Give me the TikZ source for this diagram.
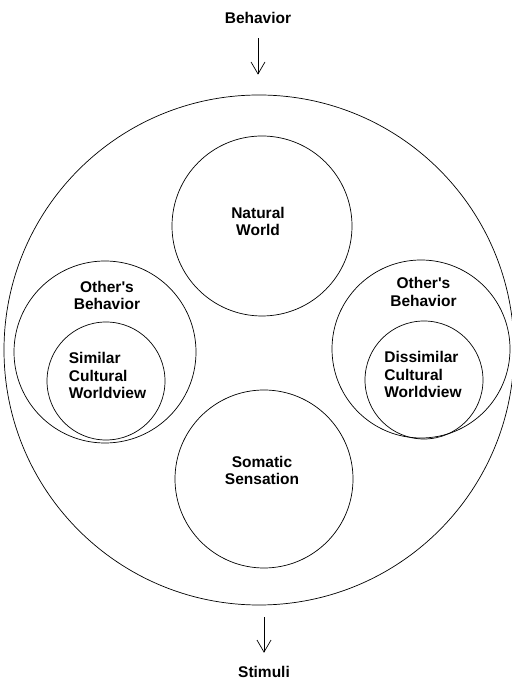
\documentclass[tikz,border=0pt]{standalone}
\usepackage{fontspec}
\setmainfont{Liberation Sans}
\usetikzlibrary{arrows.meta, positioning}
\tikzset{ring/.style={circle, draw=black, line width=0.7pt, inner sep=0pt},
ringtext/.style={font=\bfseries\fontsize{15.5}{17.5}\selectfont, align=center, inner sep=3.33pt},
flowarrow/.style={-{Straight Barb[length=12pt, width=14pt]}, line width=0.7pt}}

\begin{document}
\begin{tikzpicture}
                \useasboundingbox (0pt, 0pt) rectangle (511pt, 682pt);

                % Circles
                \node[ring, minimum size=510pt] (field) at (259pt, 332pt) {};
                \node[ring, minimum size=180pt] (natural) at (262pt, 456pt) {};
                \node[ring, minimum size=178pt] (somatic) at (264pt, 203pt) {};
                \node[ring, minimum size=182pt] (otherleft) at (105pt, 330pt) {};
                \node[ring, minimum size=118pt] (similar) at (106pt, 301pt) {};
                \node[ring, minimum size=178pt] (otherright) at (421pt, 333pt) {};
                \node[ring, minimum size=118pt] (dissimilar) at (424pt, 302pt) {};

                % Texts
                \node[ringtext] (behavior) at (258pt, 664pt) {Behavior};
                \node[ringtext] (stimuli) at (264pt, 10pt) {Stimuli};
                \node[ringtext] (naturaltext) at (258pt, 460.5pt) {Natural\\World};
                \node[ringtext] (somatictext) at (262pt, 211.5pt) {Somatic\\Sensation};
                \node[ringtext] (otherlefttext) at (107pt, 386.5pt) {Other\textquotesingle s\\Behavior};
                \node[ringtext, align=left] (similartext) at (107.5pt, 306.5pt) {Similar\\Cultural\\Worldview};
                \node[ringtext] (otherrighttext) at (423.5pt, 390pt) {Other\textquotesingle s\\Behavior};
                \node[ringtext, align=left] (dissimilartext) at (423pt, 307.5pt) {Dissimilar\\Cultural\\Worldview};

                % Arrows
                \draw[flowarrow, shorten <=11pt, shorten >=20pt] (behavior.south) -- (behavior.south |- field.north);
                \draw[flowarrow, shorten <=12pt, shorten >=10pt] (field.south -| stimuli.north) -- (stimuli.north);
\end{tikzpicture}
\end{document}
